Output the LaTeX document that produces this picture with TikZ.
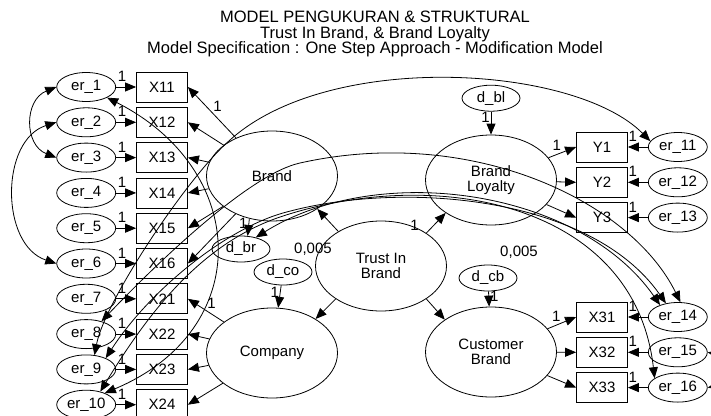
\documentclass[tikz,border=0pt]{standalone}
\usepackage{fontspec}
\setmainfont{Liberation Sans}
\usetikzlibrary{arrows.meta,positioning,shapes.geometric}

\begin{document}
\begin{tikzpicture}[
  x=1pt, y=-1pt,
  font=\fontsize{15}{14.5}\selectfont,
  line width=0.8pt,
  node distance=4.5pt and 20pt,
  obs/.style={draw, rectangle, minimum width=51pt, minimum height=30pt, inner sep=0pt},
  err/.style={draw, ellipse, minimum width=59pt, minimum height=29pt, inner sep=0pt},
  dist/.style={draw, ellipse, minimum width=58pt, minimum height=26pt, inner sep=0pt},
  latent/.style={draw, ellipse, minimum width=131pt, minimum height=90pt,
    align=center, inner sep=0pt},
  arrow/.style={-{Triangle[length=11pt,width=9pt]}},
  cov/.style={{Triangle[length=11pt,width=9pt]}-{Triangle[length=11pt,width=9pt]}},
  wt/.style={inner sep=1pt}
]
\useasboundingbox (0,0) rectangle (711,415);

\node[align=center, font=\fontsize{16.5}{15.5}\selectfont] (title) at (375,34)
  {MODEL PENGUKURAN \& STRUKTURAL\\Trust In Brand, \& Brand Loyalty\\
   Model Specification : One Step Approach - Modification Model};

% indicators of Brand and Company
\node[obs] (X11) at (162,87) {X11};
\node[obs, below=of X11] (X12) {X12};
\node[obs, below=of X12] (X13) {X13};
\node[obs, below=of X13] (X14) {X14};
\node[obs, below=of X14] (X15) {X15};
\node[obs, below=of X15] (X16) {X16};
\node[obs, below=of X16] (X21) {X21};
\node[obs, below=of X21] (X22) {X22};
\node[obs, below=of X22] (X23) {X23};
\node[obs, below=of X23] (X24) {X24};

\node[err, left=of X11] (er1) {er\_1};
\node[err, left=of X12] (er2) {er\_2};
\node[err, left=of X13] (er3) {er\_3};
\node[err, left=of X14] (er4) {er\_4};
\node[err, left=of X15] (er5) {er\_5};
\node[err, left=of X16] (er6) {er\_6};
\node[err, left=of X21] (er7) {er\_7};
\node[err, left=of X22] (er8) {er\_8};
\node[err, left=of X23] (er9) {er\_9};
\node[err, left=of X24] (er10) {er\_10};

% latent variables
\node[latent] (brand) at (272,176) {Brand};
\node[latent] (company) at (272,353) {Company};
\node[latent] (trust) at (381,266) {Trust In\\Brand};
\node[latent] (loyalty) at (491,180) {Brand\\Loyalty};
\node[latent] (custbrand) at (491,352) {Customer\\Brand};

\node[dist, above=23pt of loyalty] (dbl) {d\_bl};
\node[dist] (dbr) at (241,249) {d\_br};
\node[dist] (dco) at (283,272) {d\_co};
\node[dist] (dcb) at (488,278) {d\_cb};
\node (vbr) at (313,249) {0,005};
\node (vcb) at (519,252) {0,005};

% indicators of Brand Loyalty and Customer Brand
\node[obs] (Y1) at (602,147) {Y1};
\node[obs, below=of Y1] (Y2) {Y2};
\node[obs, below=of Y2] (Y3) {Y3};
\node[obs] (X31) at (602,317) {X31};
\node[obs, below=of X31] (X32) {X32};
\node[obs, below=of X32] (X33) {X33};

\node[err, right=of Y1] (er11) {er\_11};
\node[err, right=of Y2] (er12) {er\_12};
\node[err, right=of Y3] (er13) {er\_13};
\node[err, right=of X31] (er14) {er\_14};
\node[err, right=of X32] (er15) {er\_15};
\node[err, right=of X33] (er16) {er\_16};

% error terms
\draw[arrow] (er1) -- (X11) node[wt, pos=0.3, above=4pt] {1};
\draw[arrow] (er2) -- (X12) node[wt, pos=0.3, above=4pt] {1};
\draw[arrow] (er3) -- (X13) node[wt, pos=0.3, above=4pt] {1};
\draw[arrow] (er4) -- (X14) node[wt, pos=0.3, above=4pt] {1};
\draw[arrow] (er5) -- (X15) node[wt, pos=0.3, above=4pt] {1};
\draw[arrow] (er6) -- (X16) node[wt, pos=0.3, above=4pt] {1};
\draw[arrow] (er7) -- (X21) node[wt, pos=0.3, above=4pt] {1};
\draw[arrow] (er8) -- (X22) node[wt, pos=0.3, above=4pt] {1};
\draw[arrow] (er9) -- (X23) node[wt, pos=0.3, above=4pt] {1};
\draw[arrow] (er10) -- (X24) node[wt, pos=0.3, above=4pt] {1};
\draw[arrow] (er11) -- (Y1) node[wt, pos=0.75, above=4pt] {1};
\draw[arrow] (er12) -- (Y2) node[wt, pos=0.75, above=4pt] {1};
\draw[arrow] (er13) -- (Y3) node[wt, pos=0.75, above=4pt] {1};
\draw[arrow] (er14) -- (X31) node[wt, pos=0.75, above=4pt] {1};
\draw[arrow] (er15) -- (X32) node[wt, pos=0.75, above=4pt] {1};
\draw[arrow] (er16) -- (X33) node[wt, pos=0.75, above=4pt] {1};

% loadings
\draw[arrow] (brand) -- (X11.east) node[wt, pos=0.5, above right=0pt] {1};
\draw[arrow] (brand) -- (X12.east);
\draw[arrow] (brand) -- (X13.east);
\draw[arrow] (brand) -- (X14.east);
\draw[arrow] (brand) -- (X15.east);
\draw[arrow] (brand) -- (X16.east);
\draw[arrow] (company) -- (X21.east) node[wt, pos=0.5, above right=0pt] {1};
\draw[arrow] (company) -- (X22.east);
\draw[arrow] (company) -- (X23.east);
\draw[arrow] (company) -- (X24.east);
\draw[arrow] (loyalty) -- (Y1.west) node[wt, pos=0.5, above left=0pt] {1};
\draw[arrow] (loyalty) -- (Y2.west);
\draw[arrow] (loyalty) -- (Y3.west);
\draw[arrow] (custbrand) -- (X31.west) node[wt, pos=0.5, above left=0pt] {1};
\draw[arrow] (custbrand) -- (X32.west);
\draw[arrow] (custbrand) -- (X33.west);

% structural part
\draw[arrow] (trust.141) -- (brand.-36);
\draw[arrow] (trust.36) -- (loyalty.216) node[wt, pos=0.4, left=14pt] {1};
\draw[arrow] (trust.216) -- (company.38);
\draw[arrow] (trust.-36) -- (custbrand.145);
\draw[arrow] (dbl) -- (loyalty) node[wt, pos=0.25, left=0pt] {1};
\draw[arrow] (dcb) -- (custbrand) node[wt, pos=0.3, right=0pt] {1};
\draw[arrow] (dco) -- (company) node[wt, pos=0.3, left=0pt] {1};
\draw[arrow] (brand.242) -- (dbr.63) node[wt, pos=0.3, left=0pt] {1};

% covariances
\draw[cov] (er1.west) .. controls (24,100) and (24,145) .. (er3.west);
\draw[cov] (er2.west) .. controls (0,140) and (0,245) .. (er6.west);
\draw[cov] (er1.-27) .. controls (250,170) and (255,330) .. (er10.32);
\draw[cov] (er11.168) .. controls (575,65) and (330,50) .. (230,140)
  .. controls (190,174) and (105,300) .. (er9.60);
\draw[cov] (er14.80) .. controls (630,200) and (470,125) .. (300,163)
  .. controls (250,174) and (160,260) .. (er8.40);
\draw[cov] (er14.146) .. controls (580,190) and (380,160) .. (dbr.38);
\draw[cov] (er14.131) .. controls (590,195) and (400,180) .. (283,213)
  .. controls (225,229.5) and (150,290) .. (er9.30);
\draw[cov] (er16.158) .. controls (635,205) and (440,165) .. (283,216)
  .. controls (203,242) and (150,310) .. (er10.43);
\draw[cov] (er15.east) .. controls (735,358) and (735,382) .. (er16.east);
\end{tikzpicture}
\end{document}
